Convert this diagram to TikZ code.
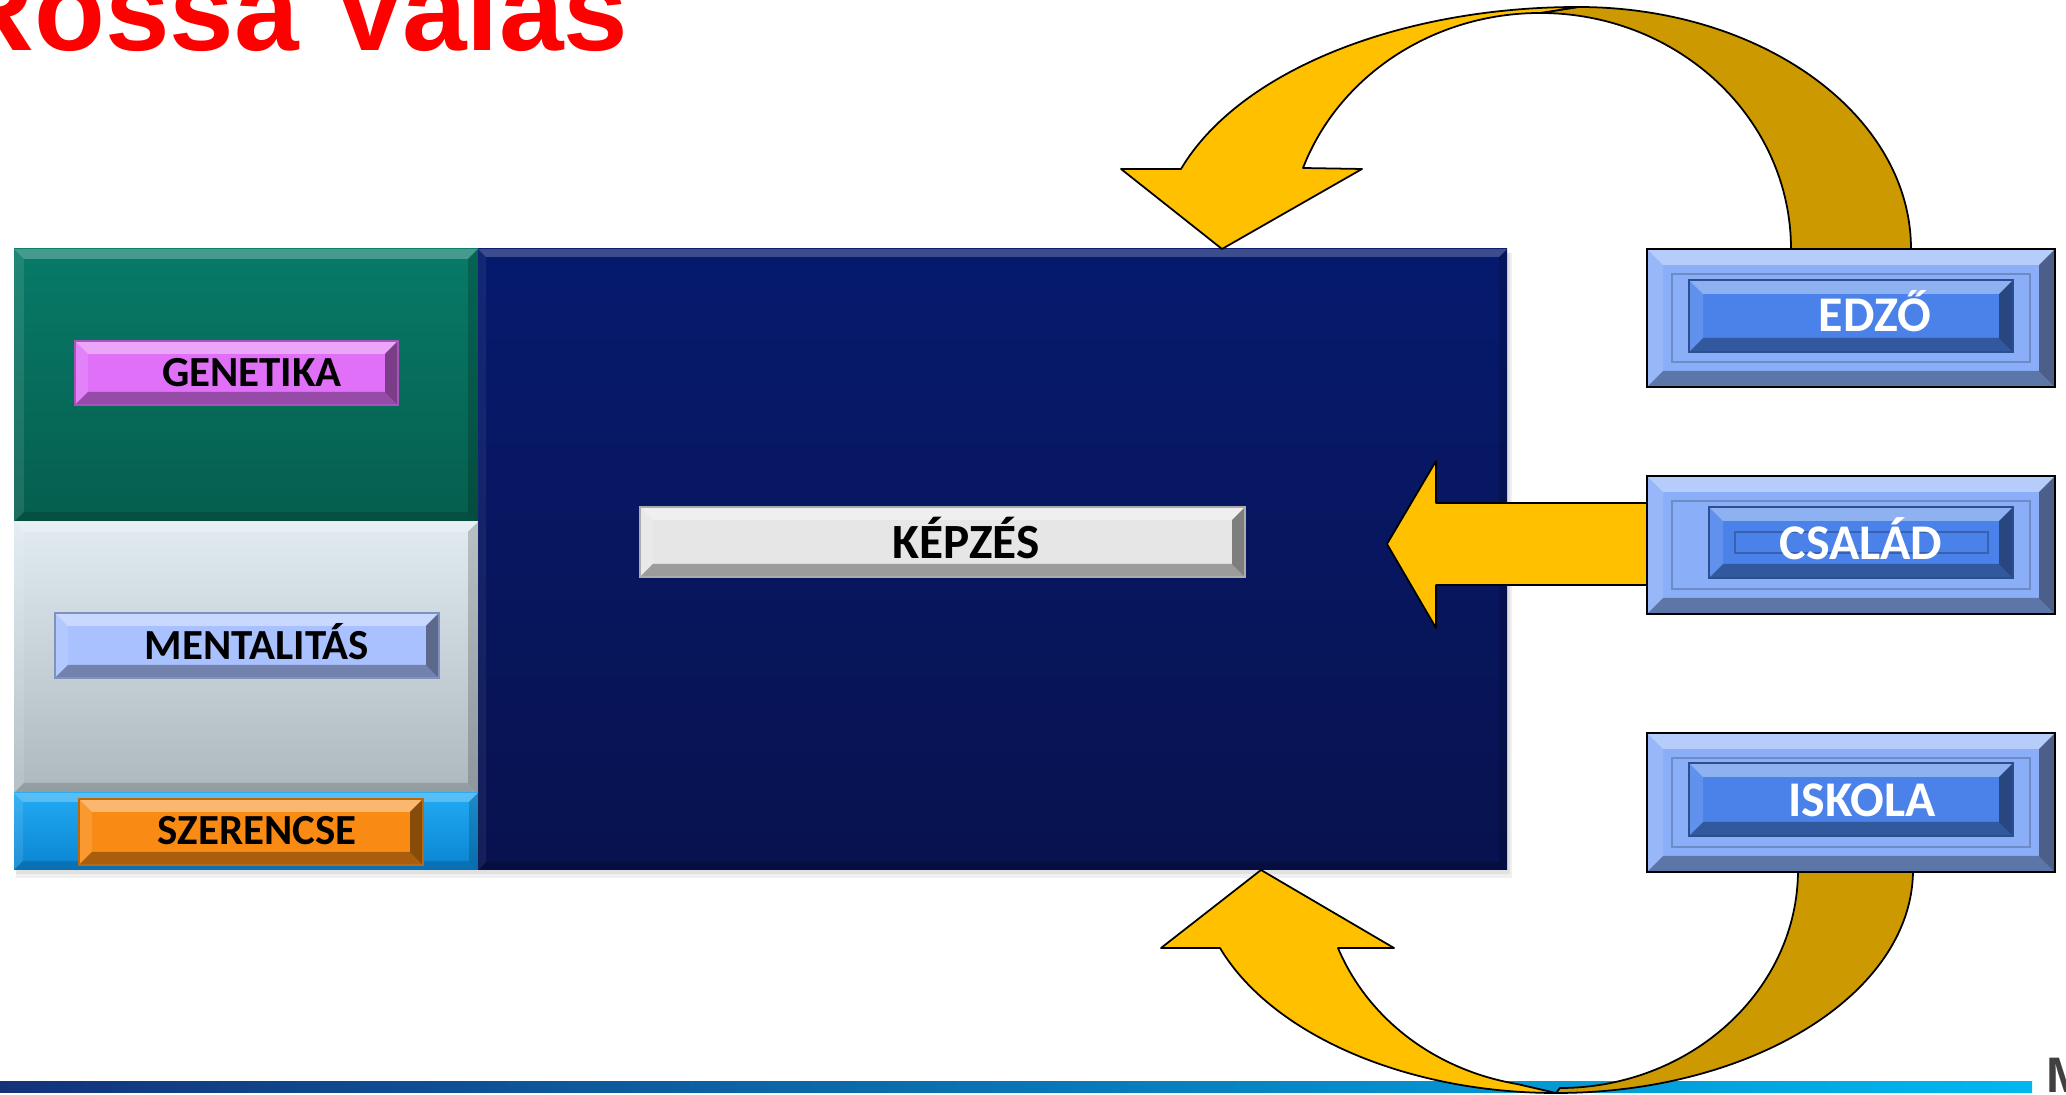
\documentclass[tikz,border=0pt]{standalone}
\usepackage{fontspec}
\setmainfont{Carlito}
\newfontfamily\titlefont{Liberation Sans}
\definecolor{gold}{HTML}{FFC000}
\definecolor{golddark}{HTML}{CC9A00}
\definecolor{grnT}{HTML}{077A68}
\definecolor{grnB}{HTML}{065E4E}
\definecolor{gryT}{HTML}{E1EBF1}
\definecolor{gryB}{HTML}{ADB8BE}
\definecolor{bluT}{HTML}{22AAF2}
\definecolor{bluB}{HTML}{0A84D2}
\definecolor{navT}{HTML}{061A6E}
\definecolor{navB}{HTML}{08124F}
\definecolor{genC}{HTML}{E070F8}
\definecolor{menC}{HTML}{A9C1FF}
\definecolor{szeC}{HTML}{F98B14}
\definecolor{kepC}{HTML}{E6E6E6}
\definecolor{rOut}{HTML}{8AAEF8}
\definecolor{rIn}{HTML}{4A82EA}
\definecolor{barL}{HTML}{13327A}
\definecolor{barM}{HTML}{0A6EC0}
\definecolor{barR}{HTML}{00B8F0}
\definecolor{mgray}{HTML}{404040}
% x1 y1 x2 y2 width, opacities: top left bottom right
\newcommand\mybevelo[9]{%
  \fill[white,opacity=#6] (#1,#2) -- (#3,#2) -- ({#3-#5},{#2+#5}) -- ({#1+#5},{#2+#5}) -- cycle;
  \fill[white,opacity=#7] (#1,#2) -- ({#1+#5},{#2+#5}) -- ({#1+#5},{#4-#5}) -- (#1,#4) -- cycle;
  \fill[black,opacity=#8] (#1,#4) -- ({#1+#5},{#4-#5}) -- ({#3-#5},{#4-#5}) -- (#3,#4) -- cycle;
  \fill[black,opacity=#9] (#3,#2) -- (#3,#4) -- ({#3-#5},{#4-#5}) -- ({#3-#5},{#2+#5}) -- cycle;
}
\newcommand\mybevel[5]{\mybevelo{#1}{#2}{#3}{#4}{#5}{.38}{.12}{.32}{.45}}
\newcommand\panelbevel[5]{\mybevelo{#1}{#2}{#3}{#4}{#5}{.25}{.10}{.15}{.18}}
\newcommand\lblbox[5]{% x1 y1 x2 y2 colour
  \fill[#5] (#1,#2) rectangle (#3,#4);
  \mybevel{#1}{#2}{#3}{#4}{13}
  \draw[#5!75!black,line width=0.3pt] (#1,#2) rectangle (#3,#4);
}
\newcommand\rightbox[5]{% y1 y2 ix1 iy1 iy2
  \fill[rOut] (1647,#1) rectangle (2055,#2);
  \mybevel{1647}{#1}{2055}{#2}{16}
  \draw[rOut!80!black,line width=0.5pt] (1672,{#1+25}) rectangle (2030,{#2-25});
  \fill[rIn] (#3,#4) rectangle (2013,#5);
  \mybevel{#3}{#4}{2013}{#5}{14}
  \draw[rIn!60!black,line width=0.4pt] (#3,#4) rectangle (2013,#5);
  \draw[black,line width=0.6pt] (1647,#1) rectangle (2055,#2);
}
\tikzset{
  lbl/.style={inner sep=0pt,anchor=base,text=black,font=\bfseries\fontsize{12.2}{14}\selectfont},
  rlbl/.style={inner sep=0pt,anchor=base,text=white,font=\bfseries\fontsize{14.2}{16}\selectfont},
  arrowpart/.style={draw=black,line width=0.5pt,line join=round}
}
\begin{document}
\begin{tikzpicture}[x=0.01cm,y=-0.01cm]
\useasboundingbox (0,0) rectangle (2066,1095);
\clip (0,0) rectangle (2066,1095);
\fill[white] (0,0) rectangle (2066,1095);

% bottom bar
\shade[left color=barL,middle color=barM,right color=barR] (0,1082) rectangle (2032,1093);
\node[anchor=base west,inner sep=0pt,text=mgray,font=\titlefont\bfseries\fontsize{14.2}{16}\selectfont] (mlogo) at (2046,1093) {M};

% soft shadows
\fill[black,opacity=.06] (16,253) rectangle (1512,878);
\fill[black,opacity=.06] (16,253) rectangle (1510,874);

% panels
\shade[top color=grnT,bottom color=grnB] (14,249) rectangle (478,522);
\panelbevel{14}{249}{478}{522}{10}
\shade[top color=gryT,bottom color=gryB] (14,522) rectangle (478,793);
\panelbevel{14}{522}{478}{793}{10}
\shade[top color=bluT,bottom color=bluB] (14,793) rectangle (478,870);
\panelbevel{14}{793}{478}{870}{9}
\shade[top color=navT,bottom color=navB] (478,249) rectangle (1507,870);
\mybevelo{478}{249}{1507}{870}{8}{.22}{.06}{.2}{.15}

% arrows
\coordinate (topTip) at (1222,249);
\coordinate (botTip) at (1261,870);
\coordinate (midTip) at (1387,544);
\filldraw[fill=golddark,arrowpart] (1911,249) .. controls (1911,115) and (1762,7) .. (1578,7) -- (1540,13) .. controls (1679,13) and (1791,119) .. (1791,249) -- cycle;
\filldraw[fill=gold,arrowpart] (topTip) -- (1362,169) -- (1303,168) .. controls (1339,75) and (1434,13) .. (1540,13) -- (1578,7) .. controls (1400,7) and (1239,71) .. (1181,169) -- (1121,169) -- cycle;

\filldraw[fill=golddark,arrowpart] (1913,870) .. controls (1913,993) and (1753,1093) .. (1556,1093) -- (1560,1088) .. controls (1691,1088) and (1798,990) .. (1798,870) -- cycle;
\filldraw[fill=gold,arrowpart] (botTip) -- (1394,948) -- (1338,948) .. controls (1368,1019) and (1435,1070) .. (1517,1084) -- (1556,1093) .. controls (1407,1093) and (1272,1035) .. (1220,948) -- (1161,948) -- cycle;

\filldraw[fill=gold,arrowpart] (midTip) -- (1436,461) -- (1436,503) -- (1650,503) -- (1650,585) -- (1436,585) -- (1436,628) -- cycle;

% right boxes
\rightbox{249}{387}{1689}{280}{352}
\rightbox{476}{614}{1709}{507}{578}
\draw[rIn!75!black,line width=0.4pt] (1735,532) rectangle (1988,553);
\rightbox{733}{872}{1689}{763}{836}
\node[rlbl] (edzo) at (1875,332) {EDZŐ};
\node[rlbl] (csalad) at (1861,560) {CSALÁD};
\node[rlbl] (iskola) at (1862,817) {ISKOLA};

% left label boxes
\lblbox{75}{341}{398}{405}{genC}
\node[lbl] (genetika) at (252,387) {GENETIKA};
\lblbox{55}{613}{439}{678}{menC}
\node[lbl] (mentalitas) at (257,660) {MENTALITÁS};
\lblbox{79}{799}{423}{865}{szeC}
\node[lbl] (szerencse) at (257,845) {SZERENCSE};
\lblbox{640}{507}{1245}{577}{kepC}
\node[lbl,font=\bfseries\fontsize{14}{16}\selectfont] (kepzes) at (966,559) {KÉPZÉS};

% title
\node[anchor=base west,inner sep=0pt,text=red,font=\titlefont\bfseries\fontsize{33}{36}\selectfont] (title) at (-50,51) {Rossa Valas};
\end{tikzpicture}
\end{document}
